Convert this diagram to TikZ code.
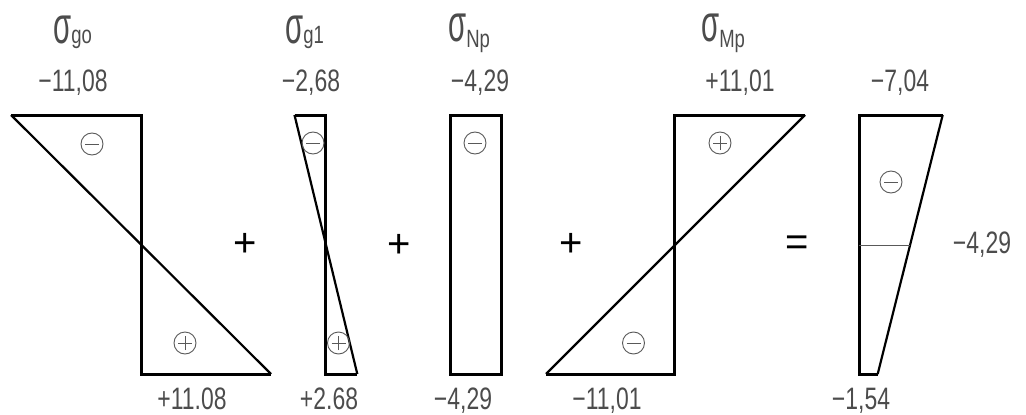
\documentclass[tikz,border=0pt]{standalone}
\usepackage{fontspec}
\newfontfamily\cad{Liberation Sans}[FakeStretch=0.74]
\newfontfamily\opfont{Liberation Sans}
\definecolor{txt}{gray}{0.30}
\definecolor{sgnc}{gray}{0.35}
\begin{document}
\begin{tikzpicture}[x=1pt,y=-1pt,
  outline/.style={line width=3pt, line join=miter},
  diag/.style={line width=2.2pt},
  thinln/.style={line width=1pt, draw=gray!70!black},
  val/.style={anchor=base, inner sep=0pt, text=txt, font=\cad\fontsize{31}{32}\selectfont},
  sig/.style={anchor=base west, inner sep=0pt, text=txt, font=\cad\fontsize{36}{38}\selectfont},
  op/.style={inner sep=0pt, text=black, font=\opfont\fontsize{40}{40}\selectfont},
  sgn/.style={circle, draw=sgnc, line width=0.9pt, minimum size=22pt, inner sep=0pt},
  minussgn/.style={sgn, path picture={\draw[sgnc, line width=0.9pt] ([xshift=-7pt]path picture bounding box.center) -- ([xshift=7pt]path picture bounding box.center);}},
  plussgn/.style={sgn, path picture={\draw[sgnc, line width=0.9pt] ([xshift=-7pt]path picture bounding box.center) -- ([xshift=7pt]path picture bounding box.center) ([yshift=-7pt]path picture bounding box.center) -- ([yshift=7pt]path picture bounding box.center);}}
]
\useasboundingbox (0,0) rectangle (1026,415);
\newcommand{\sgm}{\scalebox{1.1}[1.45]{σ}}
\newcommand{\sbs}[1]{{\fontsize{25}{26}\selectfont #1}}

% headers
\node[sig] (h1) at (53,43) {\sgm\sbs{go}};
\node[sig] (h2) at (285,43) {\sgm\sbs{g1}};
\node[sig] (h3) at (448,41) {\sgm\raisebox{-6pt}{\sbs{Np}}};
\node[sig] (h4) at (701,41) {\sgm\raisebox{-6pt}{\sbs{Mp}}};

% top values
\node[val] (t1) at (73,91) {−11,08};
\node[val] (t2) at (311,91) {−2,68};
\node[val] (t3) at (480,91) {−4,29};
\node[val] (t4) at (740,91) {+11,01};
\node[val] (t5) at (900,91) {−7,04};

% bottom values
\node[val] (b1) at (192,409) {+11.08};
\node[val] (b2) at (329,409) {+2.68};
\node[val] (b3) at (463,409) {−4,29};
\node[val] (b4) at (607,409) {−11,01};
\node[val] (b5) at (861,409) {−1,54};

\node[val] (r5) at (982,253) {−4,29};

% panel 1
\coordinate (p1a) at (11,115);
\coordinate (p1b) at (141,115);
\coordinate (p1c) at (141,374);
\coordinate (p1d) at (271,374);
\draw[outline] (p1a) -- (p1b) -- (p1c) -- (p1d);
\draw[diag] (p1a) -- (p1d);
\node[minussgn] (s1a) at (92,144) {};
\node[plussgn] (s1b) at (185,343) {};

% panel 2
\coordinate (p2a) at (294.5,115);
\coordinate (p2b) at (325.7,115);
\coordinate (p2c) at (325.7,374);
\coordinate (p2d) at (357.3,374);
\draw[outline] (p2a) -- (p2b) -- (p2c) -- (p2d);
\draw[diag] (p2a) -- (p2d);
\node[minussgn] (s2a) at (313,143) {};
\node[plussgn] (s2b) at (338.5,343) {};

% panel 3
\draw[outline] (450,115) rectangle (501,374);
\node[minussgn] (s3a) at (475,143) {};

% panel 4
\coordinate (p4a) at (674.3,115);
\coordinate (p4b) at (805,115);
\coordinate (p4c) at (546,374);
\coordinate (p4d) at (674.3,374);
\draw[outline] (p4b) -- (p4a) -- (p4d) -- (p4c);
\draw[diag] (p4b) -- (p4c);
\node[plussgn] (s4a) at (720,143) {};
\node[minussgn] (s4b) at (633.5,343) {};

% panel 5
\coordinate (p5a) at (859.3,115);
\coordinate (p5b) at (942.7,115);
\coordinate (p5c) at (877.7,374);
\coordinate (p5d) at (859.3,374);
\coordinate (p5m) at (859.3,245);
\coordinate (p5n) at (910.1,245);
\draw[outline] (p5b) -- (p5a) -- (p5d) -- (p5c);
\draw[diag] (p5b) -- (p5c);
\draw[thinln] (p5m) -- (p5n);
\node[minussgn] (s5a) at (891,182) {};

% operators
\node[op] (o1) at (245,245) {+};
\node[op] (o2) at (399,246) {+};
\node[op] (o3) at (571,245) {+};
\node[op] (o4) at (797,246) {=};
\end{tikzpicture}
\end{document}
